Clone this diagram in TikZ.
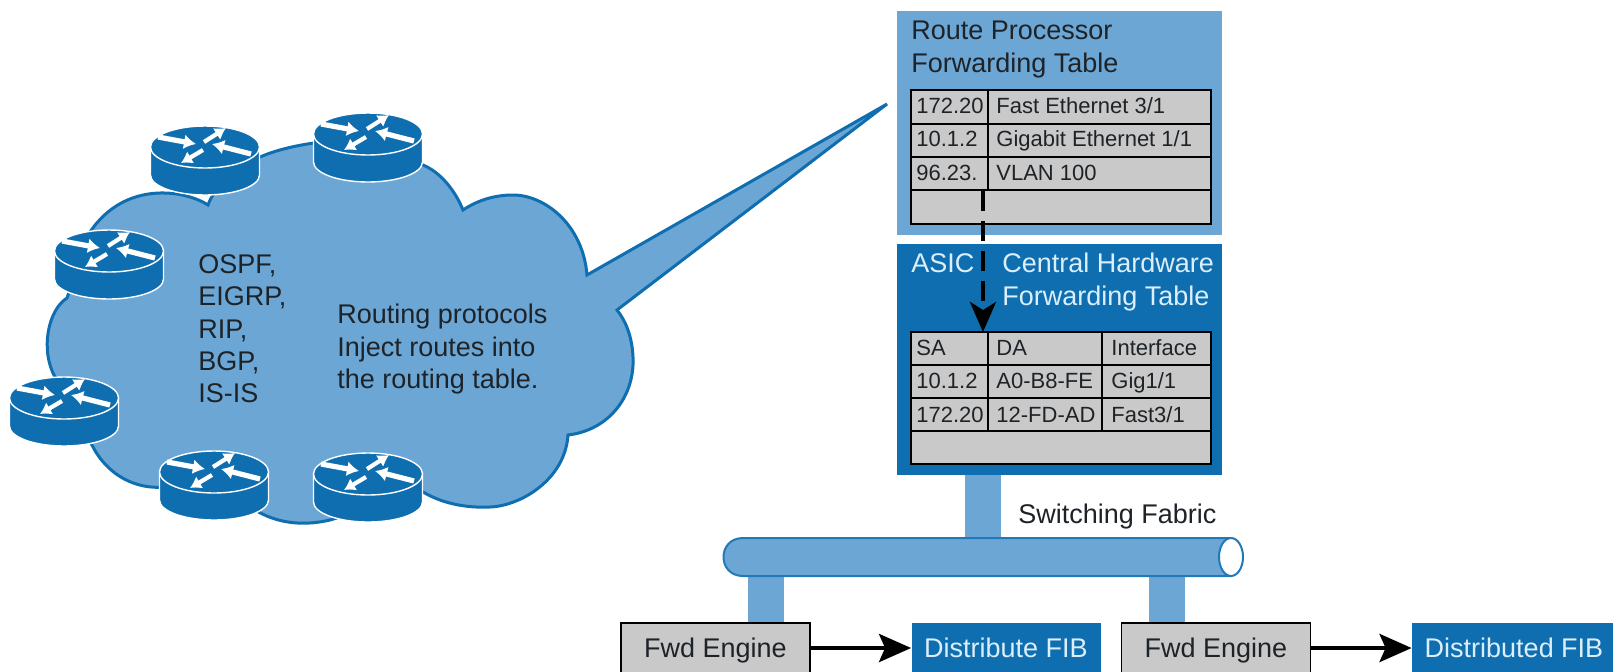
\documentclass[tikz,border=0pt]{standalone}
\usepackage{fontspec}
\setmainfont{Liberation Sans}
\usetikzlibrary{arrows.meta}
\definecolor{lightblue}{RGB}{108,166,213}
\definecolor{darkblue}{RGB}{15,110,176}
\definecolor{paleblue}{RGB}{220,238,250}
\definecolor{cellgray}{RGB}{201,201,201}
\definecolor{inktext}{RGB}{30,35,40}
\tikzset{
  bigtext/.style={inner sep=0pt,anchor=north west,align=left,text=inktext,font=\fontsize{13.5}{16.2}\selectfont},
  paletext/.style={bigtext,text=paleblue},
  celltext/.style={inner sep=0pt,anchor=base west,text=inktext,font=\fontsize{11}{13}\selectfont},
  tablebox/.style={draw=black,line width=1pt,fill=cellgray,inner sep=0pt},
  enginebox/.style={draw=black,line width=0.8pt,fill=cellgray,inner sep=0pt,minimum height=25pt,minimum width=94.5pt,text depth=0pt,text=inktext,font=\fontsize{13.5}{16}\selectfont},
  fibbox/.style={fill=darkblue,inner sep=0pt,minimum height=25pt,text=paleblue,font=\fontsize{13.5}{16}\selectfont},
  stem/.style={lightblue,line width=18pt},
  router/.pic={
    \draw [white,line width=0.7pt,fill=darkblue] (-54.5,0) -- (-54.5,28) arc [start angle=180,end angle=0,x radius=54.5,y radius=20] -- (54.5,0) -- cycle;
    \draw [white,line width=0.7pt,fill=darkblue] (0,0) ellipse [x radius=54.5,y radius=21];
    \draw [white,line width=2.6pt,-{Latex[length=6pt,width=7.5pt]}] (-47,-10) -- (-9,-3);
    \draw [white,line width=2.6pt,-{Latex[length=6pt,width=7.5pt]}] (46,7) -- (7,-3);
    \draw [white,line width=2.1pt,-{Latex[length=5.5pt,width=7pt]}] (-1,-5) -- (21,-19);
    \draw [white,line width=2.1pt,-{Latex[length=5.5pt,width=7pt]}] (-2,3) -- (-24,16);
  }
}
\begin{document}
\begin{tikzpicture}[x=0.5pt,y=-0.5pt]
\useasboundingbox (0,0) rectangle (1613,671);
\clip (0,0) rectangle (1613,671);
% cloud with its tail
\draw [darkblue,line width=1.5pt,fill=lightblue,line join=miter]
  (208,205) .. controls (185,190) and (125,180) .. (90,232)
  -- (67,298) .. controls (48,310) and (40,350) .. (55,377)
  -- (93,447) .. controls (105,470) and (130,490) .. (165,487)
  -- (255,510) .. controls (275,522) and (300,527) .. (330,520)
  -- (423,492) .. controls (445,505) and (470,508) .. (490,507)
  .. controls (520,506) and (565,480) .. (568,435)
  .. controls (610,430) and (635,395) .. (633,357)
  .. controls (632,335) and (625,320) .. (617,310)
  -- (887,104) -- (587,275)
  .. controls (583,225) and (545,195) .. (513,195)
  .. controls (495,195) and (478,200) .. (463,210)
  .. controls (455,190) and (440,172) .. (423,165)
  -- (350,140) .. controls (330,140) and (285,145) .. (258,158)
  .. controls (240,165) and (215,185) .. (208,205) -- cycle;
% routers
\foreach \name/\px/\py in {rone/205/147,rtwo/109/251,rthree/64/398,rfour/214/472,rfive/368/474,rsix/368/134}
  \pic (\name) at (\px,\py) {router};
\node [bigtext] (protocols) at (198,254) {OSPF,\\EIGRP,\\RIP,\\BGP,\\IS-IS};
\node [bigtext] (inject) at (337,304) {Routing protocols\\Inject routes into\\the routing table.};
% route processor table
\node [fill=lightblue,inner sep=0pt,minimum width=162.5pt,minimum height=112pt] (rpbox) at (1059.5,123) {};
\node [tablebox,minimum width=150pt,minimum height=67pt] (rptable) at (1061,157) {};
\foreach \y in {124,157,190}
  \draw [line width=1pt] (911,\y) -- (1211,\y);
\draw [line width=1pt] (988,90) -- (988,190);
\node [bigtext] (rptitle) at (911,21) {Route Processor\\Forwarding Table};
\foreach \name/\y/\a/\b in {one/113/172.20/{Fast Ethernet 3/1},two/146/10.1.2/{Gigabit Ethernet 1/1},three/180/96.23./VLAN 100}{
  \node [celltext] (rpa\name) at (916,\y) {\a};
  \node [celltext] (rpb\name) at (996,\y) {\b};
}
% central hardware table
\node [fill=darkblue,inner sep=0pt,minimum width=162.5pt,minimum height=115.5pt] (hwbox) at (1059.5,359.5) {};
\node [tablebox,minimum width=150pt,minimum height=66pt] (hwtable) at (1061,398) {};
\foreach \y in {365,398,431}
  \draw [line width=1pt] (911,\y) -- (1211,\y);
\draw [line width=1pt] (988,332) -- (988,431);
\draw [line width=1pt] (1102,332) -- (1102,431);
\node [paletext] (asic) at (911,253) {ASIC};
\node [paletext] (hwtitle) at (1002,253) {Central Hardware\\Forwarding Table};
\foreach \name/\y/\a/\b/\c in {one/355/SA/DA/Interface,two/388/10.1.2/A0-B8-FE/{Gig1/1},three/422/172.20/12-FD-AD/{Fast3/1}}{
  \node [celltext] (hwa\name) at (916,\y) {\a};
  \node [celltext] (hwb\name) at (996,\y) {\b};
  \node [celltext] (hwc\name) at (1111,\y) {\c};
}
\coordinate (dashstart) at (983,191);
\coordinate (dashend) at (983,332);
\draw [black,line width=2.4pt,dash pattern=on 10pt off 5pt,-{Stealth[length=15pt,width=13pt,inset=4pt]}] (dashstart) -- (dashend);
% switching fabric and the boxes under it
\node [enginebox] (fwdone) at (715.5,648) {Fwd Engine};
\node [fibbox,minimum width=94.5pt] (fibone) at (1006,648) {Distribute FIB};
\node [enginebox] (fwdtwo) at (1216,648) {Fwd Engine};
\node [fibbox,minimum width=102pt] (fibtwo) at (1514,648) {Distributed FIB};
\coordinate (fabtop) at (983,537);
\coordinate (fableft) at (766,577);
\coordinate (fabright) at (1167,577);
\draw [stem] (hwbox.south -| fabtop) -- (fabtop);
\draw [stem] (fableft) -- (fableft |- fwdone.north);
\draw [stem] (fabright) -- (fabright |- fwdtwo.north);
\draw [darkblue!80!lightblue,line width=1pt,fill=lightblue] (1231,538) -- (743,538) .. controls (717,538) and (717,576) .. (743,576) -- (1231,576);
\draw [darkblue!80!lightblue,line width=1pt,fill=white] (1231,557) ellipse [x radius=12,y radius=19];
\node [bigtext,anchor=base west] (fabric) at (1018,523) {Switching Fabric};
\draw [black,line width=2.2pt,-{Stealth[length=16pt,width=14pt,inset=3pt]}] (fwdone) -- (fibone);
\draw [black,line width=2.2pt,-{Stealth[length=16pt,width=14pt,inset=3pt]}] (fwdtwo) -- (fibtwo);
\end{tikzpicture}
\end{document}
